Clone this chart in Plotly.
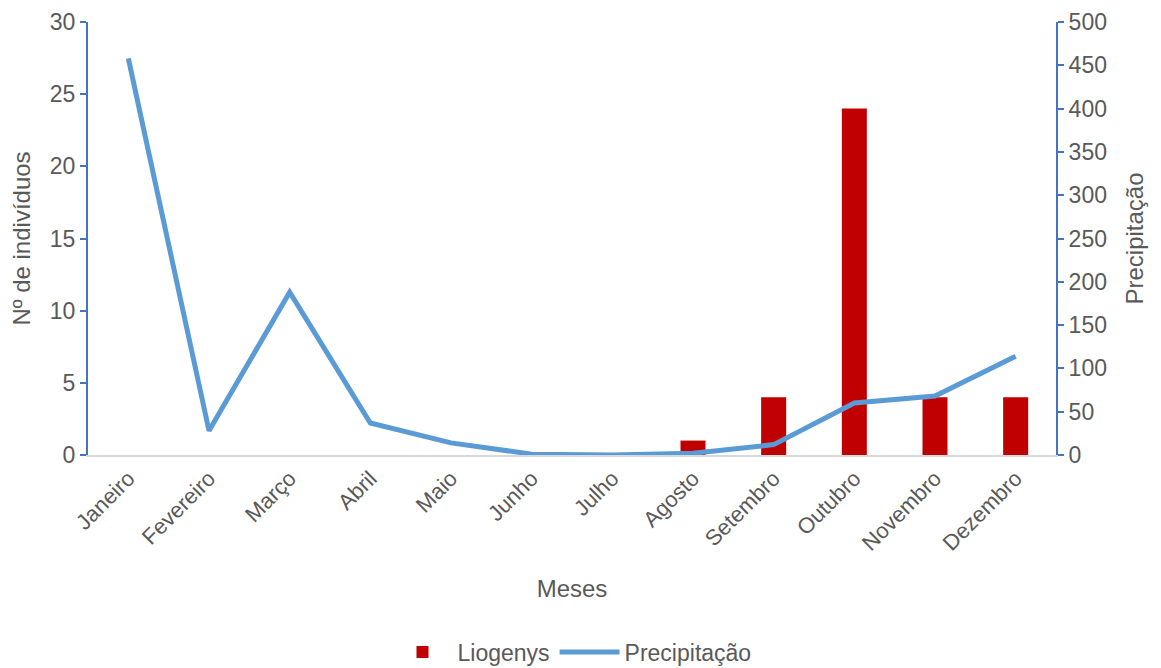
import plotly.graph_objects as go

meses = ["Janeiro", "Fevereiro", "Março", "Abril", "Maio", "Junho", "Julho",
         "Agosto", "Setembro", "Outubro", "Novembro", "Dezembro"]
liogenys = [0, 0, 0, 0, 0, 0, 0, 1, 4, 24, 4, 4]
precipitacao = [458, 28, 188, 37, 14, 1, 0, 2, 12, 60, 68, 114]

texto = "#595959"
eixo = "#4472C4"
fonte = "Liberation Sans, Arial, sans-serif"

fig = go.Figure()
fig.add_trace(go.Bar(
    x=meses, y=liogenys, name="Liogenys", width=0.31,
    marker=dict(color="#C00000", line=dict(width=0)),
    yaxis="y",
))
fig.add_trace(go.Scatter(
    x=meses, y=precipitacao, name="Precipitação", mode="lines",
    line=dict(color="#5B9BD5", width=5),
    yaxis="y2",
))

fig.update_layout(
    width=1161, height=668,
    margin=dict(l=88, r=105, t=22, b=213, autoexpand=False),
    paper_bgcolor="white", plot_bgcolor="white",
    font=dict(family=fonte, size=22, color=texto),
    showlegend=True,
    legend=dict(orientation="h", x=0.5, xanchor="center", y=-0.455, yanchor="middle",
                font=dict(size=23, color=texto), traceorder="normal",
                itemwidth=60),
    xaxis=dict(
        type="category", showgrid=False, showline=True, linecolor="#D9D9D9", linewidth=2,
        ticks="", tickangle=-45, tickfont=dict(size=22, color=texto),
        title=dict(text="Meses", font=dict(size=24, color=texto), standoff=26),
        automargin=False,
    ),
    yaxis=dict(
        range=[0, 30], dtick=5, showgrid=False, zeroline=False,
        showline=True, linecolor=eixo, linewidth=2,
        ticks="outside", ticklen=6, tickcolor=eixo, tickwidth=2,
        tickfont=dict(size=23, color=texto),
        title=dict(text="Nº de indivíduos", font=dict(size=24, color=texto), standoff=12),
        automargin=False,
    ),
    yaxis2=dict(
        range=[0, 500], dtick=50, overlaying="y", side="right", showgrid=False, zeroline=False,
        showline=True, linecolor=eixo, linewidth=2,
        ticks="outside", ticklen=6, tickcolor=eixo, tickwidth=2,
        tickfont=dict(size=23, color=texto),
        title=dict(text="Precipitação", font=dict(size=24, color=texto), standoff=20),
        automargin=False,
    ),
)

fig.write_html("out.html")
